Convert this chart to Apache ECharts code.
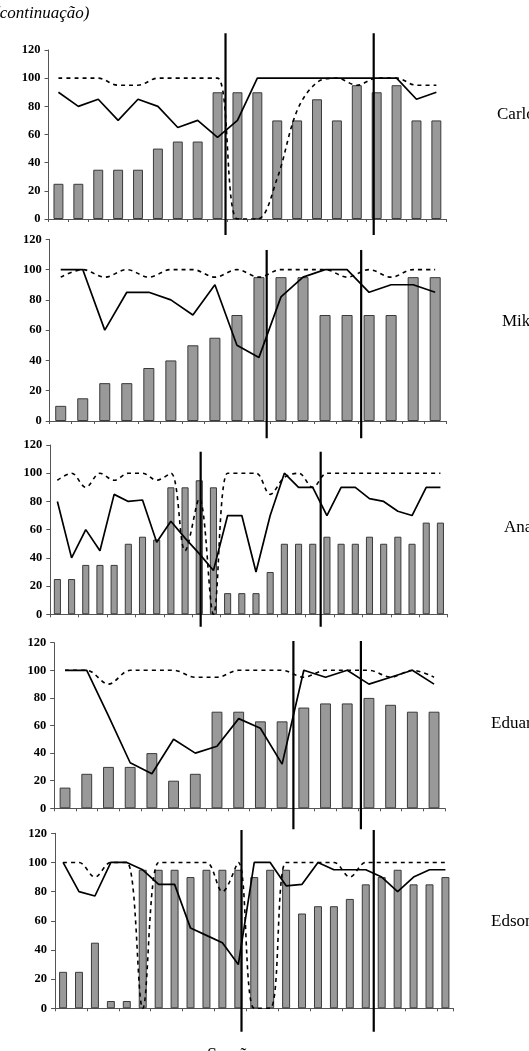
<!DOCTYPE html>
<html>
<head>
<meta charset="utf-8">
<script src="https://cdn.jsdelivr.net/npm/echarts@6/dist/echarts.min.js"></script>
<style>
  html, body { margin: 0; padding: 0; background: #fff; }
  #chart { width: 529px; height: 1051px; }
</style>
</head>
<body>
<div id="chart"></div>
<script>
// participants (one panel each)
const names = ['Carlos', 'Mike', 'Ana', 'Eduardo', 'Edson'];

// Carlos
const barsCarlos   = [25, 25, 35, 35, 35, 50, 55, 55, 90, 90, 90, 70, 70, 85, 70, 95, 90, 95, 70, 70];
const solidCarlos  = [90, 80, 85, 70, 85, 80, 65, 70, 58, 70, 100, 100, 100, 100, 100, 100, 100, 100, 85, 90];
const dashedCarlos = [100, 100, 100, 95, 95, 100, 100, 100, 100, 0, 0, 29, 77, 97, 100, 95, 100, 100, 95, 95];
const phaseCarlos  = [8.9, 16.35];

// Mike
const barsMike   = [10, 15, 25, 25, 35, 40, 50, 55, 70, 95, 95, 95, 70, 70, 70, 70, 95, 95];
const solidMike  = [100, 100, 60, 85, 85, 80, 70, 90, 50, 42, 82, 95, 100, 100, 85, 90, 90, 85];
const dashedMike = [95, 100, 95, 100, 95, 100, 100, 95, 100, 95, 100, 100, 100, 95, 100, 95, 100, 100];
const phaseMike  = [9.85, 14.14];

// Ana
const barsAna   = [25, 25, 35, 35, 35, 50, 55, 53, 90, 90, 95, 90, 15, 15, 15, 30, 50, 50, 50, 55, 50, 50, 55, 50, 55, 50, 65, 65];
const solidAna  = [80, 40, 60, 45, 85, 80, 81, 51, 66, 54, 43, 31, 70, 70, 30, 70, 100, 90, 90, 70, 90, 90, 82, 80, 73, 70, 90, 90];
const dashedAna = [95, 100, 90, 100, 95, 100, 100, 95, 100, 45, 82, 0, 100, 100, 100, 85, 97, 100, 90, 100, 100, 100, 100, 100, 100, 100, 100, 100];
const phaseAna  = [10.6, 19.06];

// Eduardo
const barsEduardo   = [15, 25, 30, 30, 40, 20, 25, 70, 70, 63, 63, 73, 76, 76, 80, 75, 70, 70];
const solidEduardo  = [100, 100, 67, 33, 25, 50, 40, 45, 65, 58, 32, 100, 95, 100, 90, 95, 100, 90];
const dashedEduardo = [100, 100, 90, 100, 100, 100, 95, 95, 100, 100, 100, 95, 100, 100, 100, 95, 100, 95];
const phaseEduardo  = [11.02, 14.13];

// Edson
const barsEdson   = [25, 25, 45, 5, 5, 95, 95, 95, 90, 95, 95, 95, 90, 95, 95, 65, 70, 70, 75, 85, 90, 95, 85, 85, 90];
const solidEdson  = [100, 80, 77, 100, 100, 95, 85, 85, 55, 50, 45, 30, 100, 100, 84, 85, 100, 95, 95, 95, 90, 80, 90, 95, 95];
const dashedEdson = [100, 100, 90, 100, 100, 0, 100, 100, 100, 100, 80, 100, 0, 0, 100, 100, 100, 100, 90, 100, 100, 100, 100, 100, 100];
const phaseEdson  = [11.7, 20.0];

const yTicks = [0, 20, 40, 60, 80, 100, 120];

const data = [
  { bars: barsCarlos,  solid: solidCarlos,  dashed: dashedCarlos,  phase: phaseCarlos },
  { bars: barsMike,    solid: solidMike,    dashed: dashedMike,    phase: phaseMike },
  { bars: barsAna,     solid: solidAna,     dashed: dashedAna,     phase: phaseAna },
  { bars: barsEduardo, solid: solidEduardo, dashed: dashedEduardo, phase: phaseEduardo },
  { bars: barsEdson,   solid: solidEdson,   dashed: dashedEdson,   phase: phaseEdson }
];

// layout of each panel: plot box, phase-line box, name label
const layout = [
  { left: 48.5, width: 397.8, top: 50,    bottom: 219,    lineTop: 33.3,  lineBottom: 235,    lx: 497, ly: 115 },
  { left: 49.7, width: 396.5, top: 239.3, bottom: 421,    lineTop: 250,   lineBottom: 438.3,  lx: 502, ly: 322 },
  { left: 50.3, width: 397.2, top: 445,   bottom: 614.3,  lineTop: 451.7, lineBottom: 626.7,  lx: 504, ly: 528 },
  { left: 54.2, width: 390.7, top: 642.7, bottom: 808.3,  lineTop: 641,   lineBottom: 829.3,  lx: 491, ly: 724 },
  { left: 55.1, width: 398.3, top: 833.3, bottom: 1008.3, lineTop: 830,   lineBottom: 1031.7, lx: 491, ly: 922 }
];

const serif = '"Liberation Serif", "Times New Roman", serif';
const axisColor = '#555';

const grid = [], xAxis = [], yAxis = [], series = [], graphic = [];

data.forEach((d, i) => {
  const L = layout[i];
  const n = d.bars.length;
  const cats = d.bars.map((_, k) => String(k + 1));

  // plot grid
  grid.push({ left: L.left, width: L.width, top: L.top, height: L.bottom - L.top });
  // phase line grid (taller than the plot)
  grid.push({ left: L.left, width: L.width, top: L.lineTop, height: L.lineBottom - L.lineTop });

  const g = i * 2;
  xAxis.push({
    type: 'category', gridIndex: g, data: cats, boundaryGap: true,
    axisLine: { lineStyle: { color: axisColor, width: 1 } },
    axisTick: { show: true, length: 3, lineStyle: { color: axisColor } },
    axisLabel: { show: false }
  });
  xAxis.push({ type: 'value', gridIndex: g + 1, min: 0, max: n, show: false });

  yAxis.push({
    type: 'value', gridIndex: g, min: 0, max: 120, interval: 20,
    axisLine: { show: true, lineStyle: { color: axisColor, width: 1 } },
    axisTick: { show: true, length: 4, lineStyle: { color: axisColor } },
    splitLine: { show: false },
    axisLabel: {
      margin: 8, color: '#000', fontFamily: serif, fontWeight: 'bold', fontSize: 12.5,
      formatter: v => yTicks.includes(v) ? String(v) : ''
    }
  });
  yAxis.push({ type: 'value', gridIndex: g + 1, min: 0, max: 1, show: false });

  series.push({
    type: 'bar', xAxisIndex: g, yAxisIndex: g, data: d.bars, barWidth: '50%',
    itemStyle: { color: '#999999', borderColor: '#3a3a3a', borderWidth: 1 },
    z: 2
  });
  series.push({
    type: 'line', xAxisIndex: g, yAxisIndex: g, data: d.dashed, smooth: 0.35,
    symbol: 'none', lineStyle: { color: '#000', width: 1.6, type: [4, 4] },
    z: 3
  });
  series.push({
    type: 'line', xAxisIndex: g, yAxisIndex: g, data: d.solid,
    symbol: 'none', lineStyle: { color: '#000', width: 1.7 },
    z: 4
  });
  d.phase.forEach(p => {
    series.push({
      type: 'line', xAxisIndex: g + 1, yAxisIndex: g + 1,
      data: [[p, 0], [p, 1]], symbol: 'none',
      lineStyle: { color: '#000', width: 2.2 }, z: 5
    });
  });

  graphic.push({
    type: 'text', x: L.lx, y: L.ly,
    style: { text: names[i], font: '17px ' + serif, fill: '#000', verticalAlign: 'middle' }
  });
});

graphic.push({
  type: 'text', x: -6, y: 14,
  style: { text: '(continuação)', font: 'italic 17px ' + serif, fill: '#000', verticalAlign: 'middle' }
});
graphic.push({
  type: 'text', x: 207, y: 1047,
  style: { text: 'Sessões', font: '18px ' + serif, fill: '#000', verticalAlign: 'top' }
});

const chart = echarts.init(document.getElementById('chart'), null, { renderer: 'canvas' });
chart.setOption({
  animation: false,
  backgroundColor: '#fff',
  grid: grid,
  xAxis: xAxis,
  yAxis: yAxis,
  series: series,
  graphic: graphic
});
</script>
</body>
</html>
